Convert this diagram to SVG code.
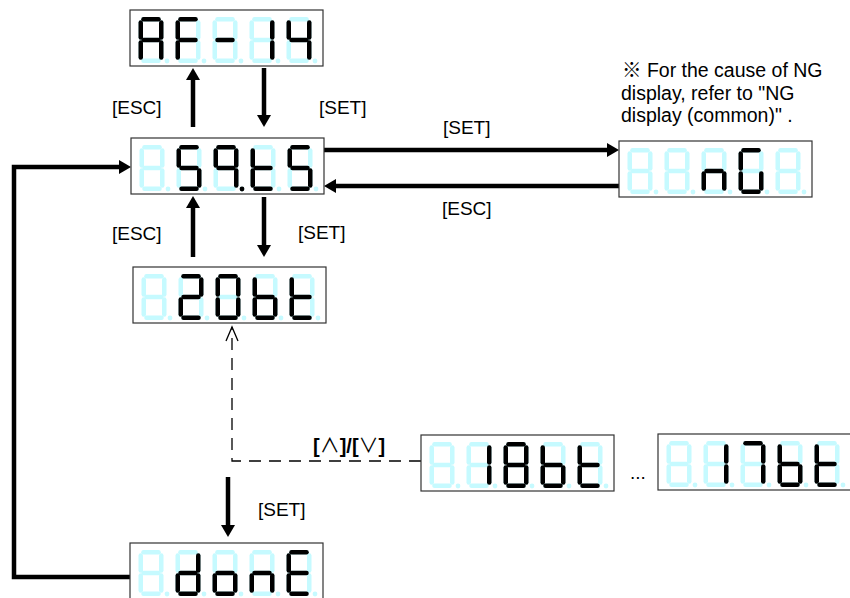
<svg xmlns="http://www.w3.org/2000/svg" xmlns:xlink="http://www.w3.org/1999/xlink" width="850" height="598" viewBox="0 0 850 598">
<style>
.disp{stroke-width:4.5;stroke-linecap:round}
.box{fill:#fff;stroke:#333;stroke-width:1.2}
.off{stroke:#c6faff;fill:#c6faff}
.on{stroke:#000;fill:#000}
.lbl{font-family:"Liberation Sans",Arial,"Noto Sans CJK JP",sans-serif;font-size:19px;fill:#000}
.note{font-size:19.5px}
.conn{fill:none;stroke:#000;stroke-width:4.5}
.dash{fill:none;stroke:#000;stroke-width:1.3;stroke-dasharray:12 8}
</style>
<defs>
<path id="sa" d="M5 2.25H20"/>
<path id="sg" d="M5 23H20"/>
<path id="sd" d="M5 43.75H20"/>
<path id="sf" d="M2.25 5.5V20.5"/>
<path id="sb" d="M22.75 5.5V20.5"/>
<path id="se" d="M2.25 25.5V40.5"/>
<path id="sc" d="M22.75 25.5V40.5"/>
<circle id="sp" cx="28.5" cy="44" r="2.4" stroke="none"/>
<g id="d8">
<use href="#sa"/><use href="#sb"/><use href="#sc"/><use href="#sd"/><use href="#se"/><use href="#sf"/><use href="#sg"/><use href="#sp"/>
</g>
<g id="ghost5">
<use href="#d8" x="8.5" y="7"/><use href="#d8" x="45.5" y="7"/><use href="#d8" x="82.5" y="7"/><use href="#d8" x="119.5" y="7"/><use href="#d8" x="156.5" y="7"/>
</g>
<marker id="ah" markerUnits="userSpaceOnUse" markerWidth="12" markerHeight="14" refX="5" refY="7" orient="auto"><path d="M0,0L12,7L0,14z" fill="#000"/></marker>
<marker id="oh" markerUnits="userSpaceOnUse" markerWidth="16" markerHeight="12" refX="14" refY="6" orient="auto" overflow="visible"><path d="M0,0L14,6L0,12" fill="none" stroke="#000" stroke-width="1.3"/></marker>
</defs>

<g id="connectors">
<path class="conn" d="M193,127V75" marker-end="url(#ah)"/>
<path class="conn" d="M264,68V120" marker-end="url(#ah)"/>
<path class="conn" d="M324,150H612" marker-end="url(#ah)"/>
<path class="conn" d="M619,186H331" marker-end="url(#ah)"/>
<path class="conn" d="M193,257V203" marker-end="url(#ah)"/>
<path class="conn" d="M264,197V250" marker-end="url(#ah)"/>
<path class="conn" d="M130,577H14V167H124" marker-end="url(#ah)"/>
<path class="conn" d="M228,477V530" marker-end="url(#ah)"/>
<path class="dash" d="M421,461H232V327" marker-end="url(#oh)"/>
</g>

<g id="labels" class="lbl">
<text x="112" y="114">[ESC]</text>
<text x="319" y="114">[SET]</text>
<text x="443" y="134">[SET]</text>
<text x="442" y="215">[ESC]</text>
<text x="112" y="240">[ESC]</text>
<text x="298" y="239">[SET]</text>
<text x="258" y="516">[SET]</text>
<text x="313" y="453" font-size="20"><tspan font-weight="bold">[</tspan>∧<tspan font-weight="bold">]/[</tspan>∨<tspan font-weight="bold">]</tspan></text>
<text x="630" y="479">...</text>
<text class="note" x="622" y="77">※ For the cause of NG</text>
<text class="note" x="621" y="99.5">display, refer to "NG</text>
<text class="note" x="621" y="122">display (common)" .</text>
</g>

<g id="n-af14" class="disp" transform="translate(130,10)">
<rect class="box" width="193" height="56"/>
<use href="#ghost5" class="off"/>
<g class="on" transform="translate(8.5,7)"><use href="#sa"/><use href="#sb"/><use href="#sc"/><use href="#se"/><use href="#sf"/><use href="#sg"/></g>
<g class="on" transform="translate(45.5,7)"><use href="#sa"/><use href="#se"/><use href="#sf"/><use href="#sg"/></g>
<g class="on" transform="translate(82.5,7)"><use href="#sg"/></g>
<g class="on" transform="translate(119.5,7)"><use href="#sb"/><use href="#sc"/></g>
<g class="on" transform="translate(156.5,7)"><use href="#sb"/><use href="#sc"/><use href="#sf"/><use href="#sg"/></g>
</g>

<g id="n-59t5" class="disp" transform="translate(131,138)">
<rect class="box" width="193" height="56"/>
<use href="#ghost5" class="off"/>
<g class="on" transform="translate(45.5,7)"><use href="#sa"/><use href="#sf"/><use href="#sg"/><use href="#sc"/><use href="#sd"/></g>
<g class="on" transform="translate(82.5,7)"><use href="#sa"/><use href="#sb"/><use href="#sc"/><use href="#sf"/><use href="#sg"/><use href="#sp"/></g>
<g class="on" transform="translate(119.5,7)"><use href="#sd"/><use href="#se"/><use href="#sf"/><use href="#sg"/></g>
<g class="on" transform="translate(156.5,7)"><use href="#sa"/><use href="#sf"/><use href="#sg"/><use href="#sc"/><use href="#sd"/></g>
</g>

<g id="n-20bt" class="disp" transform="translate(133,267)">
<rect class="box" width="193" height="56"/>
<use href="#ghost5" class="off"/>
<g class="on" transform="translate(45.5,7)"><use href="#sa"/><use href="#sb"/><use href="#sg"/><use href="#se"/><use href="#sd"/></g>
<g class="on" transform="translate(82.5,7)"><use href="#sa"/><use href="#sb"/><use href="#sc"/><use href="#sd"/><use href="#se"/><use href="#sf"/></g>
<g class="on" transform="translate(119.5,7)"><use href="#sc"/><use href="#sd"/><use href="#se"/><use href="#sf"/><use href="#sg"/></g>
<g class="on" transform="translate(156.5,7)"><use href="#sd"/><use href="#se"/><use href="#sf"/><use href="#sg"/></g>
</g>

<g id="n-ng" class="disp" transform="translate(619,141)">
<rect class="box" width="193" height="56"/>
<use href="#ghost5" class="off"/>
<g class="on" transform="translate(82.5,7)"><use href="#sc"/><use href="#se"/><use href="#sg"/></g>
<g class="on" transform="translate(119.5,7)"><use href="#sa"/><use href="#sc"/><use href="#sd"/><use href="#se"/><use href="#sf"/></g>
</g>

<g id="n-18bt" class="disp" transform="translate(421,435)">
<rect class="box" width="193" height="56"/>
<use href="#ghost5" class="off"/>
<g class="on" transform="translate(45.5,7)"><use href="#sb"/><use href="#sc"/></g>
<g class="on" transform="translate(82.5,7)"><use href="#sa"/><use href="#sb"/><use href="#sc"/><use href="#sd"/><use href="#se"/><use href="#sf"/><use href="#sg"/></g>
<g class="on" transform="translate(119.5,7)"><use href="#sc"/><use href="#sd"/><use href="#se"/><use href="#sf"/><use href="#sg"/></g>
<g class="on" transform="translate(156.5,7)"><use href="#sd"/><use href="#se"/><use href="#sf"/><use href="#sg"/></g>
</g>

<g id="n-17bt" class="disp" transform="translate(658,434)">
<rect class="box" width="193" height="56"/>
<use href="#ghost5" class="off"/>
<g class="on" transform="translate(45.5,7)"><use href="#sb"/><use href="#sc"/></g>
<g class="on" transform="translate(82.5,7)"><use href="#sa"/><use href="#sb"/><use href="#sc"/></g>
<g class="on" transform="translate(119.5,7)"><use href="#sc"/><use href="#sd"/><use href="#se"/><use href="#sf"/><use href="#sg"/></g>
<g class="on" transform="translate(156.5,7)"><use href="#sd"/><use href="#se"/><use href="#sf"/><use href="#sg"/></g>
</g>

<g id="n-done" class="disp" transform="translate(130,543)">
<rect class="box" width="193" height="56"/>
<use href="#ghost5" class="off"/>
<g class="on" transform="translate(45.5,7)"><use href="#sb"/><use href="#sc"/><use href="#sd"/><use href="#se"/><use href="#sg"/></g>
<g class="on" transform="translate(82.5,7)"><use href="#sc"/><use href="#sd"/><use href="#se"/><use href="#sg"/></g>
<g class="on" transform="translate(119.5,7)"><use href="#sc"/><use href="#se"/><use href="#sg"/></g>
<g class="on" transform="translate(156.5,7)"><use href="#sa"/><use href="#sd"/><use href="#se"/><use href="#sf"/><use href="#sg"/></g>
</g>
</svg>
